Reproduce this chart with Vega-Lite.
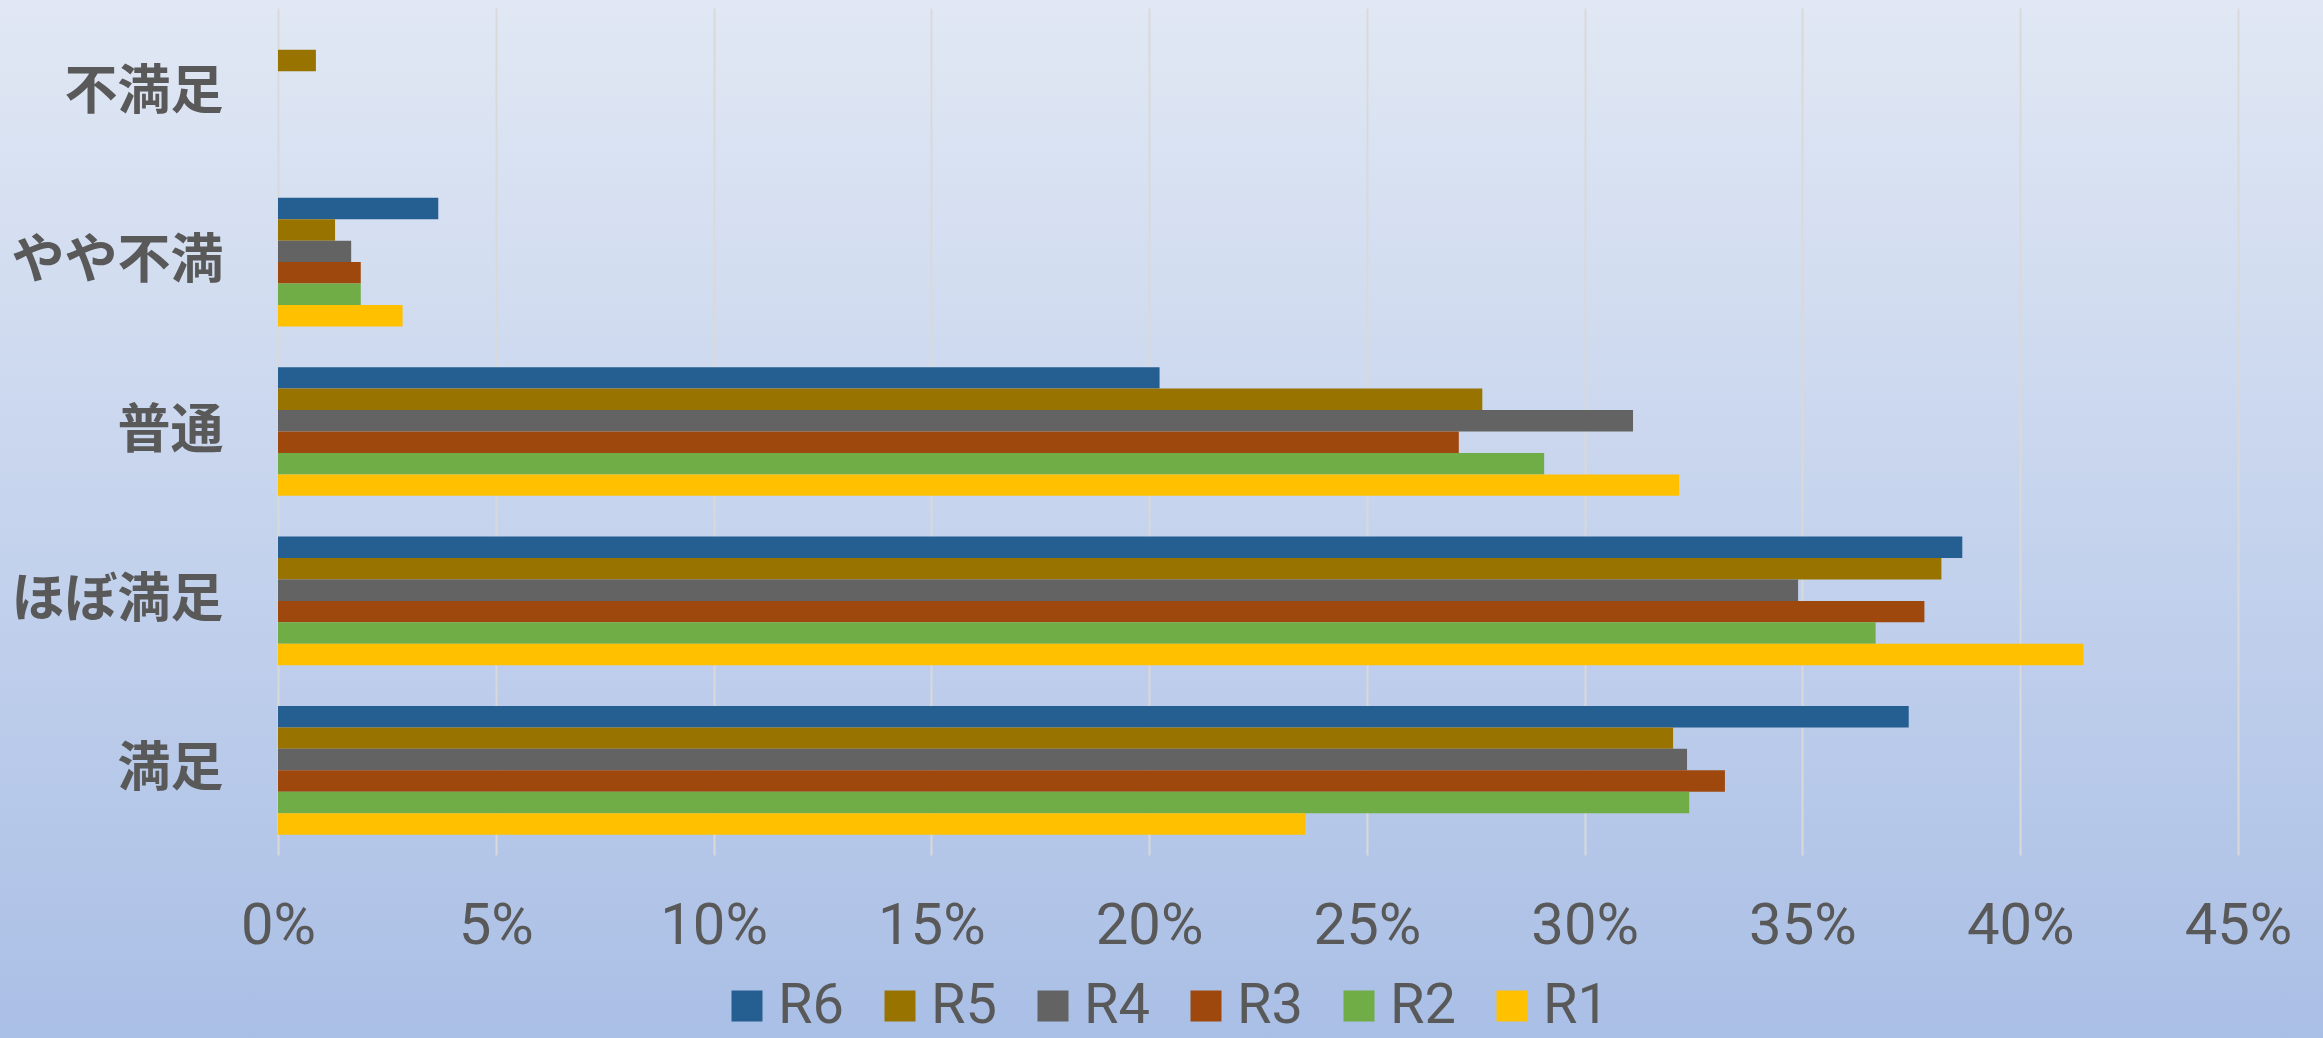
{
  "$schema": "https://vega.github.io/schema/vega-lite/v6.json",
  "width": 2323,
  "height": 1038,
  "autosize": "none",
  "padding": 0,
  "background": "#c5d3ec",
  "config": {
    "view": {
      "stroke": null,
      "fill": {"gradient": "linear", "x1": 0, "y1": 0, "x2": 0, "y2": 1, "stops": [{"offset": 0, "color": "#e1e8f4"}, {"offset": 1, "color": "#aabfe6"}]}
    }
  },
  "data": {
    "values": [
      {"cat": "不満足", "series": "R6", "value": 0},
      {"cat": "不満足", "series": "R5", "value": 0.0087},
      {"cat": "不満足", "series": "R4", "value": 0},
      {"cat": "不満足", "series": "R3", "value": 0},
      {"cat": "不満足", "series": "R2", "value": 0},
      {"cat": "不満足", "series": "R1", "value": 0},
      {"cat": "やや不満", "series": "R6", "value": 0.0368},
      {"cat": "やや不満", "series": "R5", "value": 0.0131},
      {"cat": "やや不満", "series": "R4", "value": 0.0168},
      {"cat": "やや不満", "series": "R3", "value": 0.019},
      {"cat": "やや不満", "series": "R2", "value": 0.019},
      {"cat": "やや不満", "series": "R1", "value": 0.0286},
      {"cat": "普通", "series": "R6", "value": 0.2024},
      {"cat": "普通", "series": "R5", "value": 0.2765},
      {"cat": "普通", "series": "R4", "value": 0.3111},
      {"cat": "普通", "series": "R3", "value": 0.2711},
      {"cat": "普通", "series": "R2", "value": 0.2907},
      {"cat": "普通", "series": "R1", "value": 0.3217},
      {"cat": "ほぼ満足", "series": "R6", "value": 0.3867},
      {"cat": "ほぼ満足", "series": "R5", "value": 0.3819},
      {"cat": "ほぼ満足", "series": "R4", "value": 0.349},
      {"cat": "ほぼ満足", "series": "R3", "value": 0.378},
      {"cat": "ほぼ満足", "series": "R2", "value": 0.3668},
      {"cat": "ほぼ満足", "series": "R1", "value": 0.4145},
      {"cat": "満足", "series": "R6", "value": 0.3744},
      {"cat": "満足", "series": "R5", "value": 0.3203},
      {"cat": "満足", "series": "R4", "value": 0.3235},
      {"cat": "満足", "series": "R3", "value": 0.3322},
      {"cat": "満足", "series": "R2", "value": 0.324},
      {"cat": "満足", "series": "R1", "value": 0.2358}
    ]
  },
  "mark": {"type": "bar"},
  "encoding": {
    "y": {
      "field": "cat",
      "type": "nominal",
      "sort": ["不満足", "やや不満", "普通", "ほぼ満足", "満足"],
      "scale": {"range": [8, 855], "paddingInner": 0.24, "paddingOuter": 0.12},
      "axis": {
        "title": null,
        "orient": "left",
        "offset": -250,
        "domain": false,
        "ticks": false,
        "grid": false,
        "labelPadding": 27,
        "labelLimit": 0,
        "labelFont": "Noto Sans CJK JP",
        "labelFontSize": 53,
        "labelFontWeight": "bold",
        "labelColor": "#595959"
      }
    },
    "yOffset": {
      "field": "series",
      "type": "nominal",
      "sort": ["R6", "R5", "R4", "R3", "R2", "R1"],
      "scale": {"paddingInner": 0, "paddingOuter": 0}
    },
    "x": {
      "field": "value",
      "type": "quantitative",
      "scale": {"domain": [0, 0.45], "range": [278, 2238], "nice": false},
      "axis": {
        "title": null,
        "orient": "top",
        "offset": -950,
        "values": [0, 0.05, 0.1, 0.15, 0.2, 0.25, 0.3, 0.35, 0.4, 0.45],
        "format": ".0%",
        "domain": false,
        "ticks": false,
        "grid": true,
        "gridColor": "#d9d9d9",
        "gridWidth": 2,
        "labelFlush": false,
        "labelOverlap": false,
        "labelPadding": 7,
        "labelBaseline": "alphabetic",
        "labelFont": "Roboto",
        "labelFontSize": 58,
        "labelColor": "#595959"
      }
    },
    "color": {
      "field": "series",
      "type": "nominal",
      "sort": ["R6", "R5", "R4", "R3", "R2", "R1"],
      "scale": {
        "domain": ["R6", "R5", "R4", "R3", "R2", "R1"],
        "range": ["#255e91", "#997300", "#636363", "#9e480e", "#70ad47", "#ffc000"]
      },
      "legend": {
        "title": null,
        "orient": "none",
        "direction": "horizontal",
        "legendX": 719,
        "legendY": 978,
        "padding": 0,
        "symbolType": "square",
        "symbolSize": 961,
        "symbolStrokeWidth": 0,
        "labelOffset": 3,
        "columnPadding": 28,
        "labelFont": "Roboto",
        "labelFontSize": 56,
        "labelColor": "#595959"
      }
    }
  }
}
